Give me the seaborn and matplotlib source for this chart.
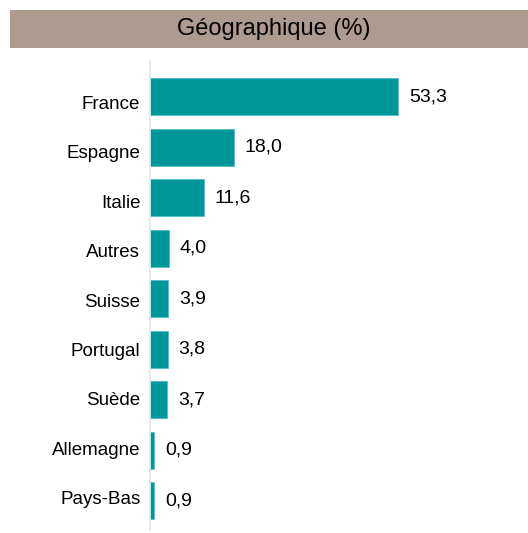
import pandas as pd
import matplotlib.pyplot as plt
import matplotlib.transforms as mtransforms
import seaborn as sns
from matplotlib.patches import Rectangle

countries = ['France', 'Espagne', 'Italie', 'Autres', 'Suisse', 'Portugal', 'Suède', 'Allemagne', 'Pays-Bas']
shares = [53.3, 18.0, 11.6, 4.0, 3.9, 3.8, 3.7, 0.9, 0.9]
title = 'Géographique (%)'

df = pd.DataFrame({'pays': countries, 'part': shares})

sns.set_style('white')
plt.rcParams['font.family'] = ['Liberation Sans', 'DejaVu Sans']
plt.rcParams['text.color'] = 'black'
plt.rcParams['ytick.color'] = 'black'

fig = plt.figure(figsize=(5.28, 5.33), dpi=100)
ax = fig.add_axes([150 / 528, 3 / 533, 370 / 528, 470 / 533])

sns.barplot(data=df, x='part', y='pays', color='#00979b', saturation=1,
            width=0.733, ax=ax, edgecolor='#4fc0c3', linewidth=0.6)

for i, v in enumerate(shares):
    ax.text(v + 2.35, i, f'{v:.1f}'.replace('.', ','), va='center', ha='left',
            fontsize=14, color='black')

ax.set_xlim(0, 79.5)
ax.set_ylim(8.584, -0.723)
ax.set_xlabel('')
ax.set_ylabel('')
ax.set_xticks([])
ax.tick_params(axis='y', length=0, labelsize=13.5, pad=7, labelcolor='black')
for s in ['top', 'right', 'bottom']:
    ax.spines[s].set_visible(False)
ax.spines['left'].set_color('#e6e6e6')
ax.spines['left'].set_linewidth(1.2)

# category labels sit on a slightly tighter pitch than the bars
n = len(countries)
for i, lab in enumerate(ax.get_yticklabels()):
    dy = -(6 - 9 * i / (n - 1)) / 100
    lab.set_transform(lab.get_transform() + mtransforms.ScaledTranslation(0, dy, fig.dpi_scale_trans))

# title banner
fig.patches.append(Rectangle((10 / 528, 1 - 47.5 / 533), 518 / 528, 37.5 / 533,
                             transform=fig.transFigure, facecolor='#af9a8f',
                             edgecolor='none', zorder=0))
fig.text(274 / 528, 1 - 29 / 533, title, ha='center', va='center', fontsize=17)

fig.savefig('out.png', dpi=100)
